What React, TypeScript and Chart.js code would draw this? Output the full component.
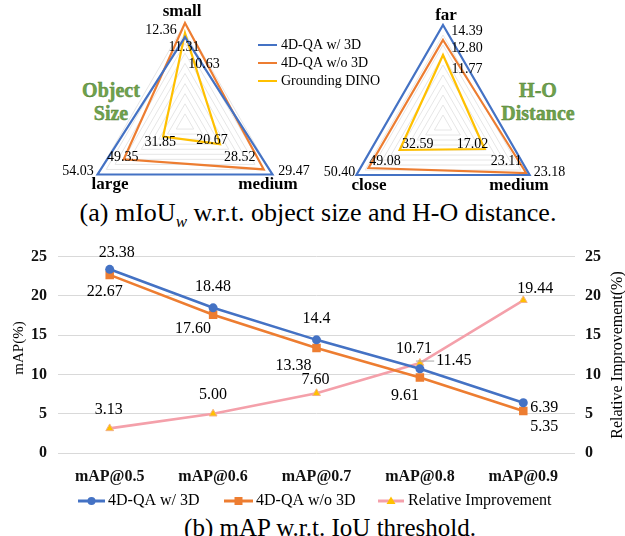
import React, { useEffect, useRef } from "react";
import { Chart, registerables } from "chart.js";
Chart.register(...registerables);

const FONT = '"Liberation Serif", "Times New Roman", serif';
const BLUE = "#4472C4";
const ORANGE = "#ED7D31";
const YELLOW = "#FFC000";
const PINK = "#F4A0AA";
const GREEN = "#6FA24C";

// ---------- (a) radar data ----------
const radarSeries = ["4D-QA w/ 3D", "4D-QA w/o 3D", "Grounding DINO"];
const sizeAxes = ["small", "medium", "large"];
const distAxes = ["far", "medium", "close"];
// labelled mIoU_w values
const sizeWith3D = [11.31, 29.47, 54.03];
const sizeWithout3D = [12.36, 28.52, 49.35];
const sizeDINO = [10.63, 20.67, 31.85];
const distWith3D = [14.39, 23.18, 50.4];
const distWithout3D = [12.8, 23.11, 49.08];
const distDINO = [11.77, 17.02, 32.59];
// normalised radius of each vertex as drawn in the figure
const sizeWith3DRadius = [0.86, 1.0, 1.0];
const sizeWithout3DRadius = [1.0, 0.9, 0.7];
const sizeDINORadius = [0.9, 0.4, 0.25];
const distWith3DRadius = [1.0, 1.0, 1.0];
const distWithout3DRadius = [0.85, 0.96, 0.86];
const distDINORadius = [0.7, 0.48, 0.5];

// ---------- (b) line data ----------
const thresholds = ["mAP@0.5", "mAP@0.6", "mAP@0.7", "mAP@0.8", "mAP@0.9"];
const lineSeries = ["4D-QA w/ 3D", "4D-QA w/o 3D", "Relative Improvement"];
const mapWith3D = [23.38, 18.48, 14.4, 10.71, 6.39];
const mapWithout3D = [22.67, 17.6, 13.38, 9.61, 5.35];
const relImprovement = [3.13, 5.0, 7.6, 11.45, 19.44];
const mapWith3DDecimals = [2, 2, 1, 2, 2];
const yTicksMax = 25;
const yTicksStep = 5;

type Off = [number, number];

interface RadarCfg {
  values: number[][];
  offsets: Off[][];
  axisLabels: string[];
  axisOffsets: Off[];
  legend?: boolean;
}

function makeRadarPlugin(cfg: RadarCfg) {
  return {
    id: "radarText",
    afterDraw(chart: any) {
      const ctx = chart.ctx as CanvasRenderingContext2D;
      const r = chart.scales.r;
      ctx.save();
      ctx.fillStyle = "#000";
      ctx.textAlign = "center";
      ctx.textBaseline = "middle";
      ctx.font = `14px ${FONT}`;
      cfg.values.forEach((vals, di) => {
        const meta = chart.getDatasetMeta(di);
        vals.forEach((v, i) => {
          const p = meta.data[i];
          const [dx, dy] = cfg.offsets[di][i];
          ctx.fillText(v.toFixed(2), p.x + dx, p.y + dy);
        });
      });
      ctx.font = `bold 17px ${FONT}`;
      cfg.axisLabels.forEach((lab, i) => {
        const pos = r.getPointPosition(i, r.drawingArea);
        const [dx, dy] = cfg.axisOffsets[i];
        ctx.fillText(lab, pos.x + dx, pos.y + dy);
      });
      if (cfg.legend) {
        ctx.font = `14px ${FONT}`;
        ctx.textAlign = "left";
        chart.data.datasets.forEach((ds: any, i: number) => {
          const y = 45 + i * 18;
          ctx.strokeStyle = ds.borderColor;
          ctx.lineWidth = 2;
          ctx.beginPath();
          ctx.moveTo(258, y);
          ctx.lineTo(277, y);
          ctx.stroke();
          ctx.fillStyle = "#000";
          ctx.fillText(ds.label, 281, y);
        });
      }
      ctx.restore();
    },
  };
}

function RadarChart(props: {
  left: number;
  width: number;
  padding: { left: number; right: number; top: number; bottom: number };
  axes: string[];
  radii: number[][];
  cfg: RadarCfg;
}) {
  const ref = useRef<HTMLCanvasElement>(null);
  useEffect(() => {
    const colors = [BLUE, ORANGE, YELLOW];
    const chart = new Chart(ref.current!, {
      type: "radar",
      data: {
        labels: props.axes,
        datasets: props.radii.map((d, i) => ({
          label: radarSeries[i],
          data: d,
          borderColor: colors[i],
          backgroundColor: "transparent",
          borderWidth: 2.2,
          borderJoinStyle: "miter",
          fill: false,
          pointRadius: 0,
          tension: 0,
        })),
      },
      options: {
        responsive: false,
        animation: false,
        devicePixelRatio: 1,
        layout: { padding: props.padding },
        scales: {
          r: {
            min: 0,
            max: 1,
            ticks: { display: false, stepSize: 0.1 },
            grid: { color: "#e6e6e6", lineWidth: 1 },
            angleLines: { display: false },
            pointLabels: { display: false },
          },
        },
        plugins: { legend: { display: false }, tooltip: { enabled: false } },
      } as any,
      plugins: [makeRadarPlugin(props.cfg)],
    });
    return () => chart.destroy();
  }, []);
  return (
    <canvas
      ref={ref}
      width={props.width}
      height={250}
      style={{ position: "absolute", left: props.left, top: 0, width: props.width, height: 250 }}
    />
  );
}

function LineChart() {
  const ref = useRef<HTMLCanvasElement>(null);
  useEffect(() => {
    const labelCfg = [
      { values: mapWith3D, decimals: mapWith3DDecimals, offsets: [[7, -17], [0, -21], [0, -21], [-6, -20], [21, 5]] as Off[] },
      { values: mapWithout3D, decimals: [2, 2, 2, 2, 2], offsets: [[-5, 17], [-20, 14], [-23, 18], [-15, 18], [21, 16]] as Off[] },
      { values: relImprovement, decimals: [2, 2, 2, 2, 2], offsets: [[-1, -19], [0, -19], [-1, -13], [34, -2], [12, -11]] as Off[], leader: 3 },
    ];
    const markerStyles = ["circle", "rect", "triangle"];
    const plugin = {
      id: "lineText",
      afterDatasetsDraw(chart: any) {
        const ctx = chart.ctx as CanvasRenderingContext2D;
        ctx.save();
        ctx.font = `16px ${FONT}`;
        ctx.fillStyle = "#000";
        ctx.textAlign = "center";
        ctx.textBaseline = "middle";
        labelCfg.forEach((s, di) => {
          const meta = chart.getDatasetMeta(di);
          s.values.forEach((v, i) => {
            const p = meta.data[i];
            const [dx, dy] = s.offsets[i];
            const txt = v.toFixed(s.decimals[i]);
            const x = p.x + dx;
            const y = p.y + dy;
            if ((s as any).leader === i) {
              const w = ctx.measureText(txt).width;
              ctx.strokeStyle = "#a6a6a6";
              ctx.lineWidth = 1;
              ctx.beginPath();
              ctx.moveTo(p.x - 4, y);
              ctx.lineTo(x - w / 2 - 2, y);
              ctx.stroke();
            }
            ctx.fillText(txt, x, y);
          });
        });
        // axis titles
        ctx.font = `15px ${FONT}`;
        ctx.save();
        ctx.translate(19, 112);
        ctx.rotate(-Math.PI / 2);
        ctx.fillText("mAP(%)", 0, 0);
        ctx.restore();
        ctx.font = `16px ${FONT}`;
        ctx.save();
        ctx.translate(618, 119);
        ctx.rotate(-Math.PI / 2);
        ctx.fillText("Relative Improvement(%)", 0, 0);
        ctx.restore();
        // legend
        const ly = 265;
        const lx0 = [78, 224, 378];
        const lx1 = [105, 253, 404];
        const tx = [108, 256, 408];
        ctx.textAlign = "left";
        ctx.font = `16px ${FONT}`;
        chart.data.datasets.forEach((ds: any, i: number) => {
          ctx.strokeStyle = ds.borderColor;
          ctx.lineWidth = 3;
          ctx.beginPath();
          ctx.moveTo(lx0[i], ly);
          ctx.lineTo(lx1[i], ly);
          ctx.stroke();
          const cx = (lx0[i] + lx1[i]) / 2;
          ctx.fillStyle = ds.pointBackgroundColor || ds.backgroundColor;
          ctx.beginPath();
          if (markerStyles[i] === "circle") {
            ctx.arc(cx, ly, 4, 0, Math.PI * 2);
            ctx.fill();
          } else if (markerStyles[i] === "rect") {
            ctx.rect(cx - 4, ly - 4, 8, 8);
            ctx.fill();
          } else {
            ctx.moveTo(cx, ly - 4.5);
            ctx.lineTo(cx + 4.5, ly + 3);
            ctx.lineTo(cx - 4.5, ly + 3);
            ctx.closePath();
            ctx.fill();
          }
          ctx.fillStyle = "#000";
          ctx.fillText(ds.label, tx[i], ly);
        });
        ctx.restore();
      },
    };
    const tickFont = { family: FONT, size: 16, weight: "bold" as const };
    const chart = new Chart(ref.current!, {
      type: "line",
      data: {
        labels: thresholds,
        datasets: [
          {
            label: lineSeries[0],
            data: mapWith3D,
            yAxisID: "y",
            borderColor: BLUE,
            backgroundColor: BLUE,
            pointBackgroundColor: BLUE,
            pointBorderColor: BLUE,
            borderWidth: 2.6,
            pointStyle: "circle",
            pointRadius: 4.5,
            pointBorderWidth: 0,
            tension: 0,
          },
          {
            label: lineSeries[1],
            data: mapWithout3D,
            yAxisID: "y",
            borderColor: ORANGE,
            backgroundColor: ORANGE,
            pointBackgroundColor: ORANGE,
            pointBorderColor: ORANGE,
            borderWidth: 2.6,
            pointStyle: "rect",
            pointRadius: 6,
            pointBorderWidth: 0,
            tension: 0,
          },
          {
            label: lineSeries[2],
            data: relImprovement,
            yAxisID: "y1",
            borderColor: PINK,
            backgroundColor: PINK,
            pointBackgroundColor: YELLOW,
            pointBorderColor: "#F4B183",
            borderWidth: 2.6,
            pointStyle: "triangle",
            pointRadius: 4.5,
            pointBorderWidth: 1,
            tension: 0,
          },
        ],
      },
      options: {
        responsive: false,
        animation: false,
        devicePixelRatio: 1,
        layout: { padding: { top: 17, left: 0, right: 0, bottom: 0 } },
        scales: {
          x: {
            offset: true,
            grid: { display: false, drawTicks: false },
            border: { display: false },
            ticks: { font: tickFont, color: "#111", padding: 14, maxRotation: 0 },
            afterFit: (s: any) => { s.height = 83; },
          },
          y: {
            position: "left",
            min: 0,
            max: yTicksMax,
            ticks: { stepSize: yTicksStep, font: tickFont, color: "#111", padding: 11 },
            grid: { color: "#d9d9d9", lineWidth: 1, drawTicks: false },
            border: { display: false },
            afterFit: (s: any) => { s.width = 58; },
          },
          y1: {
            position: "right",
            min: 0,
            max: yTicksMax,
            ticks: { stepSize: yTicksStep, font: tickFont, color: "#111", padding: 10 },
            grid: { display: false, drawTicks: false },
            border: { display: false },
            afterFit: (s: any) => { s.width = 50; },
          },
        },
        plugins: { legend: { display: false }, tooltip: { enabled: false } },
      } as any,
      plugins: [plugin],
    });
    return () => chart.destroy();
  }, []);
  return (
    <canvas
      ref={ref}
      width={625}
      height={300}
      style={{ position: "absolute", left: 0, top: 236, width: 625, height: 300 }}
    />
  );
}

const greenText: React.CSSProperties = {
  position: "absolute",
  transform: "translateX(-50%)",
  fontFamily: FONT,
  fontWeight: "bold",
  fontSize: 20,
  lineHeight: "23px",
  color: GREEN,
  WebkitTextStroke: "0.4px #4f7f35",
  textAlign: "center",
  whiteSpace: "nowrap",
};

const caption: React.CSSProperties = {
  position: "absolute",
  transform: "translateX(-50%)",
  fontFamily: FONT,
  lineHeight: "23px",
  color: "#000",
  whiteSpace: "nowrap",
};

export default function App() {
  return (
    <div style={{ position: "absolute", left: 0, top: 0, width: 625, height: 536, overflow: "hidden", background: "#fff" }}>
      <div style={{ ...caption, left: 318, top: 201, fontSize: 26 }}>
        (a) mIoU<sub style={{ fontStyle: "italic", fontSize: 17, verticalAlign: "-6px", lineHeight: 0 }}>w</sub> w.r.t. object size and H-O distance.
      </div>
      <div style={{ ...caption, left: 330, top: 516, fontSize: 25 }}>(b) mAP w.r.t. IoU threshold.</div>
      <div style={{ ...greenText, left: 111, top: 79 }}>
        Object<br />Size
      </div>
      <div style={{ ...greenText, left: 538, top: 79 }}>
        H-O<br />Distance
      </div>
      <RadarChart
        left={0}
        width={400}
        padding={{ left: 84, right: 114, top: 23, bottom: 25 }}
        axes={sizeAxes}
        radii={[sizeWith3DRadius, sizeWithout3DRadius, sizeDINORadius]}
        cfg={{
          values: [sizeWith3D, sizeWithout3D, sizeDINO],
          offsets: [
            [[-1, 10], [21.5, -3.5], [-19.5, -3.5]],
            [[-24, 7], [-24, -12.5], [-1, -2]],
            [[19, 31], [-8, -4], [-3, 6]],
          ],
          axisLabels: sizeAxes,
          axisOffsets: [[-3, -11], [-4.5, 10.5], [12.5, 10.5]],
          legend: true,
        }}
      />
      <RadarChart
        left={312}
        width={313}
        padding={{ left: 31, right: 82, top: 25, bottom: 25 }}
        axes={distAxes}
        radii={[distWith3DRadius, distWithout3DRadius, distDINORadius]}
        cfg={{
          values: [distWith3D, distWithout3D, distDINO],
          offsets: [
            [[24, 6], [20, -3], [-17, -3]],
            [[24, 8], [-20, -12], [16.5, -7]],
            [[24, 14], [-12, -5], [18, -6]],
          ],
          axisLabels: distAxes,
          axisOffsets: [[3, -9], [-10.6, 11], [12.6, 11]],
        }}
      />
      <LineChart />
    </div>
  );
}
